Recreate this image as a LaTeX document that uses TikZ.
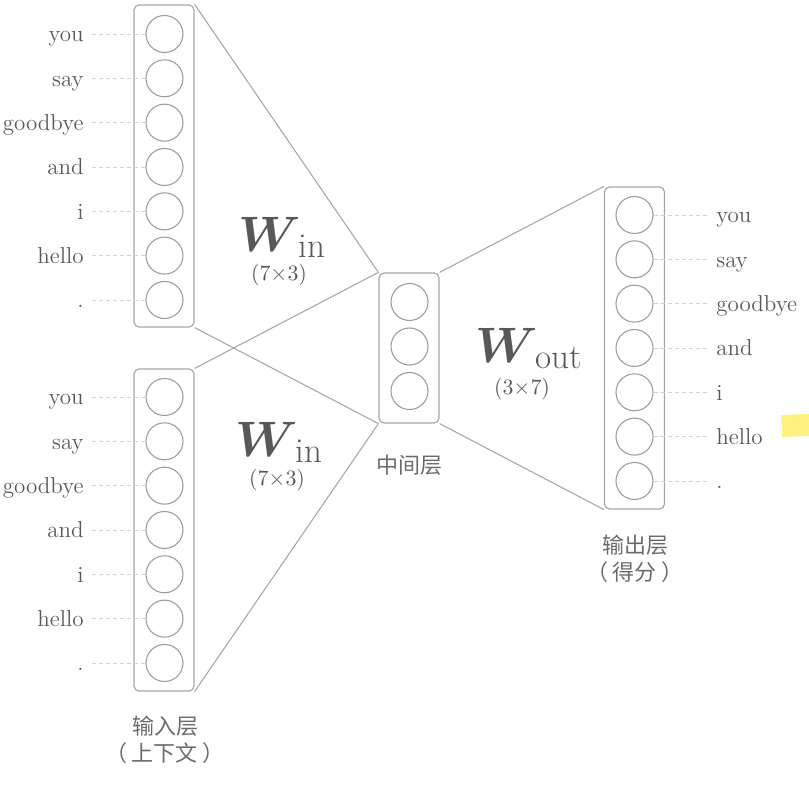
\documentclass[tikz,border=0pt]{standalone}
\usepackage{fontspec}
\usepackage{bm}
\newfontfamily\cjk{Noto Sans CJK SC}
\definecolor{txt}{RGB}{92,88,88}
\definecolor{cjkc}{RGB}{110,106,106}
\definecolor{ln}{RGB}{168,168,168}
\definecolor{circ}{RGB}{158,158,158}
\definecolor{dsh}{RGB}{212,212,212}
\definecolor{wcol}{RGB}{88,88,88}
\definecolor{hl}{RGB}{255,241,128}
\newcommand{\wsym}[1]{{\fontsize{26}{30}\selectfont$\bm{W}$}\kern-1pt\raisebox{-3pt}{\fontsize{17.5}{21}\selectfont #1}}
\newcommand{\pspace}{\hspace{2.5pt}}
\tikzset{
  layerbox/.style={draw=ln, rounded corners=2.5pt, line width=0.6pt, minimum width=30pt, inner sep=0pt},
  unit/.style={circle, draw=circ, line width=0.55pt, minimum size=18.5pt, inner sep=0pt},
  word/.style={font=\fontsize{11.5}{14}\selectfont, text=txt, inner sep=0pt},
  guide/.style={draw=dsh, dash pattern=on 2pt off 1.5pt, line width=0.45pt},
  conn/.style={draw=ln, line width=0.55pt},
  cjklab/.style={font=\cjk\fontsize{11}{13.5}\selectfont, text=cjkc, align=center, inner sep=0pt},
  wlab/.style={text=wcol, inner sep=0pt},
  dimlab/.style={font=\fontsize{11}{13}\selectfont, text=txt, inner sep=0pt},
}
\begin{document}
\begin{tikzpicture}[x=0.5pt,y=-0.5pt]
\useasboundingbox (0,0) rectangle (809,785);

% layer boxes
\node[layerbox, minimum height=161pt] (inA) at (164,166) {};
\node[layerbox, minimum height=161pt] (inB) at (164,530) {};
\node[layerbox, minimum height=75pt] (mid) at (409,348) {};
\node[layerbox, minimum height=161pt] (out) at (634.5,348) {};

% connectors
\draw[conn] (inA.north east) -- (mid.north west);
\draw[conn] (inA.south east) -- (mid.south west);
\draw[conn] (inB.north east) -- (mid.north west);
\draw[conn] (inB.south east) -- (mid.south west);
\draw[conn] (mid.north east) -- (out.north west);
\draw[conn] (mid.south east) -- (out.south west);

% units with labels
\foreach \w [count=\i from 0] in {you,say,goodbye,and,i,hello,.}{
  \pgfmathsetmacro{\ya}{34+44.33*\i}
  \pgfmathsetmacro{\yb}{397+44.33*\i}
  \pgfmathsetmacro{\yo}{215+44.33*\i}
  \node[unit] (a\i) at (164.5,\ya) {};
  \coordinate (ga\i) at (92,\ya);
  \draw[guide] (ga\i) -- (a\i.west);
  \node[word, anchor=base east] (la\i) at (84,\ya+8) {\w};
  \node[unit] (b\i) at (164.5,\yb) {};
  \coordinate (gb\i) at (92,\yb);
  \draw[guide] (gb\i) -- (b\i.west);
  \node[word, anchor=base east] (lb\i) at (84,\yb+8) {\w};
  \node[unit] (o\i) at (634.5,\yo) {};
  \coordinate (go\i) at (709,\yo);
  \draw[guide] (o\i.east) -- (go\i);
  \node[word, anchor=base west] (lo\i) at (716,\yo+8) {\w};
}
\foreach \i in {0,1,2}{
  \pgfmathsetmacro{\ym}{302+44.5*\i}
  \node[unit] (m\i) at (409.5,\ym) {};
}

% weight labels
\node[wlab, anchor=base west] (w1) at (238,252) {\wsym{in}};
\node[dimlab, anchor=base] (d1) at (279,281) {$(7{\times}3)$};
\node[wlab, anchor=base west] (w2) at (235,457) {\wsym{in}};
\node[dimlab, anchor=base] (d2) at (277,486) {$(7{\times}3)$};
\node[wlab, anchor=base west] (w3) at (475,363) {\wsym{out}};
\node[dimlab, anchor=base] (d3) at (522,395) {$(3{\times}7)$};

% layer names
\node[cjklab] (nm) at (409,465) {中间层};
\node[cjklab] (no) at (635,559) {输出层\\（\pspace 得分\pspace ）};
\node[cjklab] (ni) at (165,740) {输入层\\（\pspace 上下文\pspace ）};

% highlight mark
\fill[hl] (781,415) -- (809,414) -- (809,436) -- (782,437) -- cycle;
\end{tikzpicture}
\end{document}
